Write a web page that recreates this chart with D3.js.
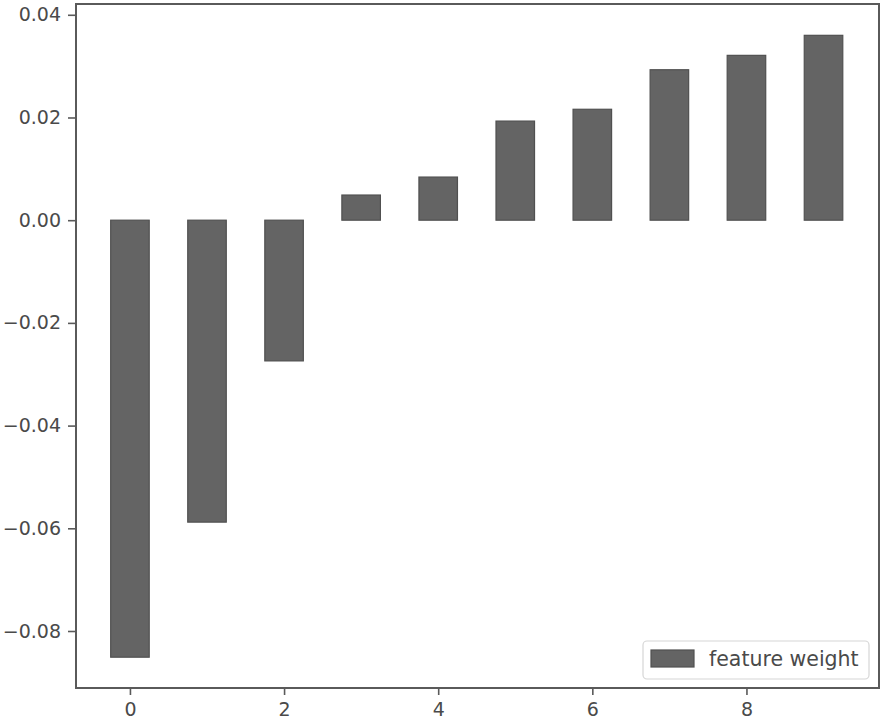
<!DOCTYPE html>
<html>
<head>
<meta charset="utf-8">
<script src="https://cdn.jsdelivr.net/npm/d3@7"></script>
<style>
  html, body { margin: 0; padding: 0; background: #fff; }
  svg { display: block; }
  text { font-family: "DejaVu Sans", sans-serif; }
</style>
</head>
<body>
<svg id="chart" width="886" height="727"></svg>
<script>
const categories = [0, 1, 2, 3, 4, 5, 6, 7, 8, 9];
const featureWeight = [-0.0851, -0.0588, -0.0274, 0.0049, 0.0084, 0.0193, 0.0216, 0.0293, 0.0321, 0.0360];
const xTicks = [0, 2, 4, 6, 8];
const yTicks = [-0.08, -0.06, -0.04, -0.02, 0.00, 0.02, 0.04];
const seriesName = "feature weight";

(function () {
const svg = d3.select("#chart");
const mLeft = 76, mRight = 879, mTop = 4, mBottom = 688;
const textColor = "#4a4a4a", spineColor = "#5a5a5a";
const barFill = "#646464", barEdge = "#505050";

const x = d3.scaleLinear().domain([-0.7, 9.72]).range([mLeft, mRight]);
const y = d3.scaleLinear().domain([-0.0911, 0.0421]).range([mBottom, mTop]);
const barW = 0.5;

svg.append("g").selectAll("rect").data(categories).join("rect")
  .attr("x", d => x(d - barW / 2))
  .attr("width", d => x(d + barW / 2) - x(d - barW / 2))
  .attr("y", (d, i) => y(Math.max(0, featureWeight[i])))
  .attr("height", (d, i) => Math.abs(y(featureWeight[i]) - y(0)))
  .attr("fill", barFill)
  .attr("stroke", barEdge)
  .attr("stroke-width", 1.2);

const xAxis = svg.append("g").attr("transform", `translate(0,${mBottom})`)
  .call(d3.axisBottom(x).tickValues(xTicks).tickFormat(d3.format("d")).tickSize(7).tickPadding(8));
const yAxis = svg.append("g").attr("transform", `translate(${mLeft},0)`)
  .call(d3.axisLeft(y).tickValues(yTicks).tickFormat(d => d3.format(".2f")(d).replace("-", "\u2212")).tickSize(8).tickPadding(7));

[xAxis, yAxis].forEach(g => {
  g.select(".domain").remove();
  g.selectAll("line").attr("stroke", spineColor).attr("stroke-width", 1.6);
  g.selectAll("text").attr("fill", textColor).style("font-size", "19px");
});

svg.append("rect")
  .attr("x", mLeft).attr("y", mTop)
  .attr("width", mRight - mLeft).attr("height", mBottom - mTop)
  .attr("fill", "none").attr("stroke", spineColor).attr("stroke-width", 2);

const lg = svg.append("g");
lg.append("rect")
  .attr("x", 643).attr("y", 641).attr("width", 226).attr("height", 38)
  .attr("rx", 4).attr("fill", "#fff").attr("stroke", "#d6d6d6").attr("stroke-width", 1.2);
lg.append("rect")
  .attr("x", 651).attr("y", 650).attr("width", 43).attr("height", 17)
  .attr("fill", barFill).attr("stroke", barEdge).attr("stroke-width", 1.2);
lg.append("text")
  .attr("x", 709).attr("y", 666)
  .attr("fill", textColor).style("font-size", "20.5px")
  .text(seriesName);
})();
</script>
</body>
</html>
